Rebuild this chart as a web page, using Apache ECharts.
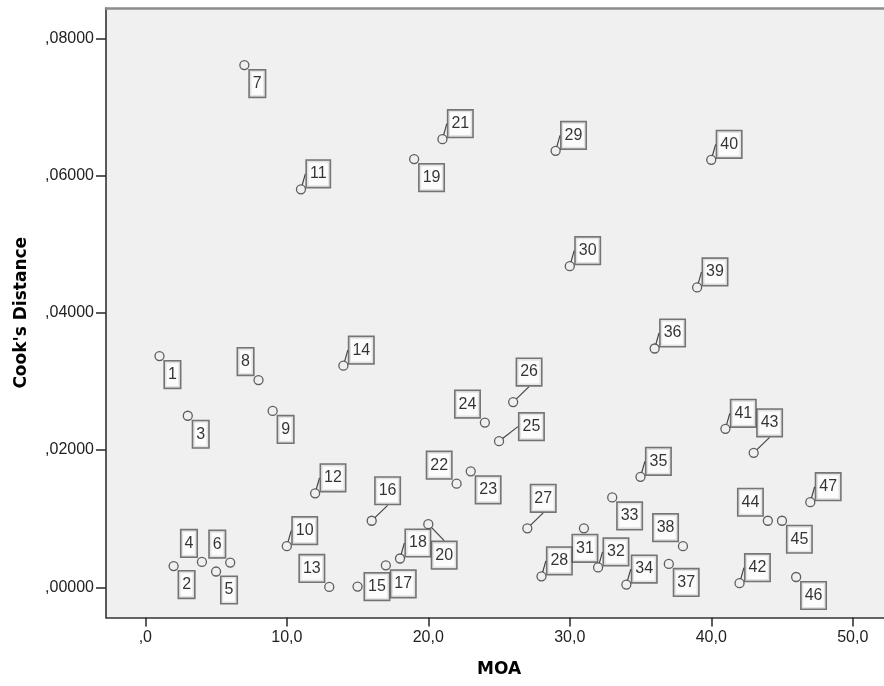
<!DOCTYPE html>
<html>
<head>
<meta charset="utf-8">
<script src="https://cdn.jsdelivr.net/npm/echarts@6/dist/echarts.min.js"></script>
<style>html,body{margin:0;padding:0;background:#fff}#c{width:884px;height:686px}</style>
</head>
<body>
<div id="c"></div>
<script>
// ---- data ----
var caseIds = [1,2,3,4,5,6,7,8,9,10,11,12,13,14,15,16,17,18,19,20,21,22,23,24,25,26,27,28,29,30,31,32,33,34,35,36,37,38,39,40,41,42,43,44,45,46,47];
var moa = [1,2,3,4,5,6,7,8,9,10,11,12,13,14,15,16,17,18,19,20,21,22,23,24,25,26,27,28,29,30,31,32,33,34,35,36,37,38,39,40,41,42,43,44,45,46,47];
var cooksDistance = [0.0337,0.0031,0.0250,0.0037,0.0023,0.0036,0.0761,0.0302,0.0257,0.0060,
  0.0580,0.0137,0.00005,0.0323,0.0001,0.0097,0.0032,0.0042,0.0624,0.0092,
  0.0653,0.0151,0.0169,0.0240,0.0213,0.0270,0.0086,0.0016,0.0636,0.0468,
  0.0086,0.0029,0.0131,0.0004,0.0161,0.0348,0.0034,0.0060,0.0437,0.0623,
  0.0231,0.0006,0.0196,0.0097,0.0097,0.0015,0.0124];
var xTicks = [0,10,20,30,40,50];
var yTicks = [0,0.02,0.04,0.06,0.08];
// label placement codes (layout, not data)
var labelPlace = ['se','se','se','nw','se','nw','se','nw','se','ne',
  'ne','ne','nw','ne','e','nef','se','ne','se','sef',
  'ne','nw','se','nw','ef','nef','nef','ne','ne','ne',
  's','ne','se','ne','ne','ne','se','nw','ne','ne',
  'ne','ne','nef','nw','se','se','ne'];
var placeDef = {
  se:  {dx:5.5, dy:5.5, align:'left', va:'top', line:false},
  nw:  {dx:-5.5, dy:-5.5, align:'right', va:'bottom', line:false},
  ne:  {dx:6, dy:-2.5, align:'left', va:'bottom', line:true},
  e:   {dx:7.5, dy:0, align:'left', va:'middle', line:false},
  s:   {dx:1, dy:7, align:'center', va:'top', line:false},
  nef: {dx:4, dy:-17, align:'left', va:'bottom', line:true},
  sef: {dx:4, dy:18, align:'left', va:'top', line:true},
  ef:  {dx:20.5, dy:-1.5, align:'left', va:'bottom', line:true}
};

var data = moa.map(function(x, i){
  var p = placeDef[labelPlace[i]];
  return {value:[x, cooksDistance[i]], name:String(caseIds[i]), labelLine:{show:p.line}};
});

function fmtX(v){ return v.toFixed(1).replace('.', ',').replace(/^0,/, ','); }
function fmtY(v){ return v.toFixed(5).replace(/^0\./, ','); }

var chart = echarts.init(document.getElementById('c'), null, {renderer:'canvas'});
chart.setOption({
  animation:false,
  backgroundColor:'#ffffff',
  grid:{left:106, top:8, right:0, bottom:68.5, show:true, backgroundColor:'#f0f0f0', borderWidth:0},
  xAxis:[{
    type:'value', min:-2.78, max:52.21, position:'bottom',
    name:'MOA', nameLocation:'middle', nameGap:44,
    nameTextStyle:{fontFamily:'DejaVu Sans', fontWeight:'bold', fontSize:17, color:'#000', padding:[0,0,0,8]},
    axisLine:{show:true, onZero:false, lineStyle:{color:'#333', width:1.6}},
    axisTick:{show:true, length:9, customValues:xTicks, lineStyle:{color:'#333', width:1.6}},
    axisLabel:{customValues:xTicks, margin:12, formatter:fmtX, fontFamily:'Liberation Sans', fontSize:16, color:'#222'},
    splitLine:{show:false}
  },{
    type:'value', min:-2.78, max:52.21, position:'top',
    axisLine:{show:true, onZero:false, lineStyle:{color:'#8c8c8c', width:2.5}},
    axisTick:{show:false}, axisLabel:{show:false}, splitLine:{show:false}
  }],
  yAxis:{
    type:'value', min:-0.0044, max:0.08442,
    name:"Cook's Distance", nameLocation:'middle', nameGap:76, nameRotate:90,
    nameTextStyle:{fontFamily:'DejaVu Sans', fontWeight:'bold', fontSize:17, color:'#000'},
    axisLine:{show:true, onZero:false, lineStyle:{color:'#333', width:1.6}},
    axisTick:{show:true, length:10, customValues:yTicks, lineStyle:{color:'#333', width:1.6}},
    axisLabel:{customValues:yTicks, margin:12, formatter:fmtY, fontFamily:'Liberation Sans', fontSize:16, color:'#222'},
    splitLine:{show:false}
  },
  series:[{
    type:'scatter', xAxisIndex:0,
    symbol:'circle', symbolSize:9,
    itemStyle:{color:'rgba(0,0,0,0)', borderColor:'#3a3a3a', borderWidth:1.3},
    data:data,
    label:{show:true, position:'inside', formatter:'{b}', fontFamily:'Liberation Sans', fontSize:16, color:'#000',
      backgroundColor:'#ffffff', borderColor:'#555', borderWidth:1.6, padding:[4,3,4,3], lineHeight:18},
    labelLine:{show:false, lineStyle:{color:'#444', width:1.2}},
    labelLayout:function(params){
      var p = placeDef[labelPlace[params.dataIndex]];
      var cx = params.rect.x + params.rect.width/2;
      var cy = params.rect.y + params.rect.height/2;
      return {x:cx + p.dx, y:cy + p.dy, align:p.align, verticalAlign:p.va};
    },
    emphasis:{disabled:true}
  }]
});
</script>
</body>
</html>
